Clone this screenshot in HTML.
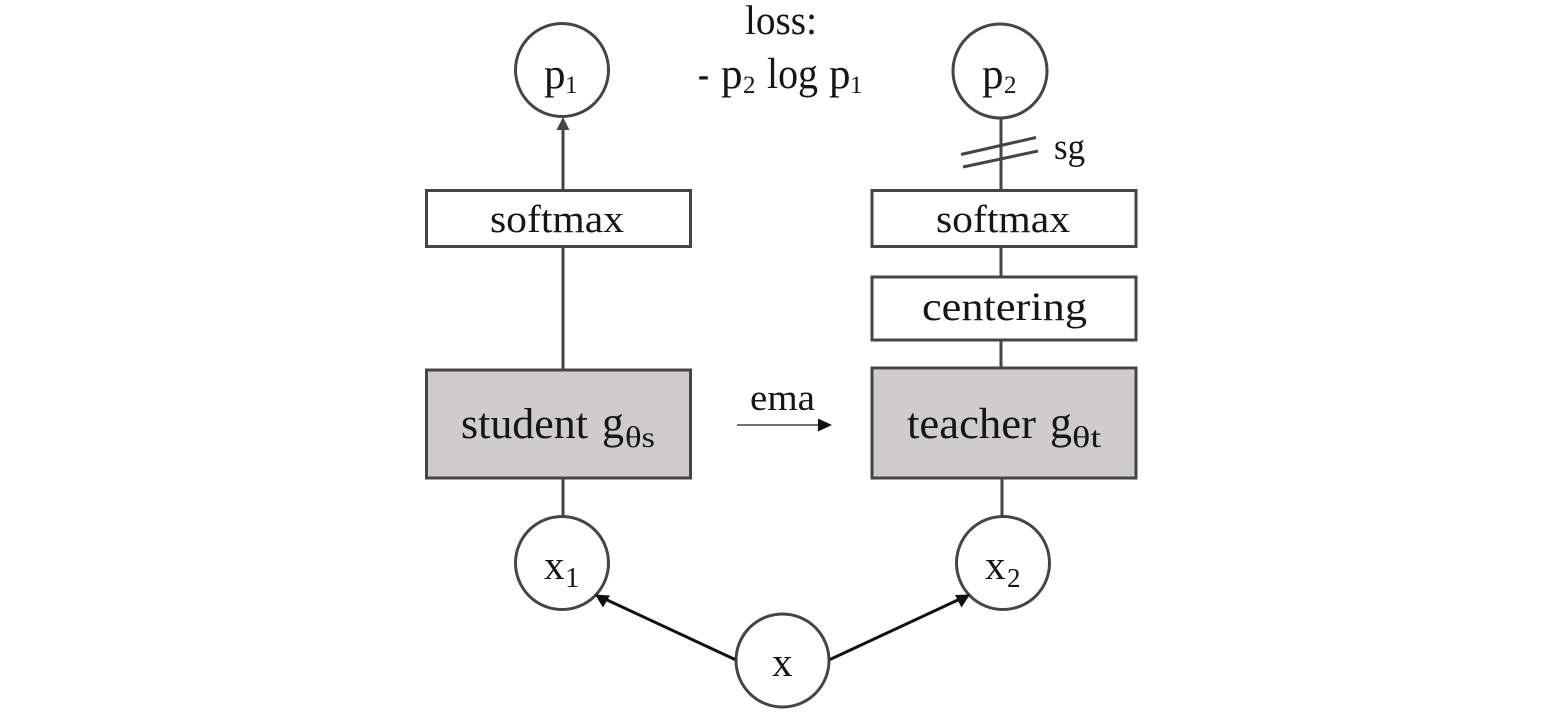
<!DOCTYPE html>
<html>
<head>
<meta charset="utf-8">
<style>
html,body{margin:0;padding:0;background:#fff;}
svg{display:block;filter:blur(.35px);}
text{font-family:"Liberation Serif",serif;fill:#161616;}
</style>
</head>
<body>
<svg width="1562" height="714" viewBox="0 0 1562 714" xmlns="http://www.w3.org/2000/svg">
<g stroke="#454545" stroke-width="3" fill="none">
<!-- left column lines -->
<line x1="563" y1="128" x2="563" y2="190"/>
<line x1="563" y1="247" x2="563" y2="370"/>
<line x1="563" y1="478" x2="563" y2="516"/>
<!-- right column lines -->
<line x1="1001" y1="117" x2="1001" y2="190"/>
<line x1="1001" y1="247" x2="1001" y2="277"/>
<line x1="1001" y1="340" x2="1001" y2="368"/>
<line x1="1002" y1="478" x2="1002" y2="516"/>
<!-- sg marks -->
<line x1="961" y1="154.500" x2="1036" y2="137.500"/>
<line x1="963" y1="167" x2="1038" y2="151"/>
<!-- circles -->
<circle cx="562" cy="70" r="46.500" fill="#fff"/>
<circle cx="1000" cy="71" r="47" fill="#fff"/>
<circle cx="562" cy="563" r="46.500" fill="#fff"/>
<circle cx="1003" cy="563" r="46.500" fill="#fff"/>
<circle cx="782.500" cy="660.500" r="46.500" fill="#fff"/>
<!-- boxes -->
<rect x="426.500" y="190.500" width="264" height="56" fill="#fff"/>
<rect x="872" y="190.500" width="264" height="56" fill="#fff"/>
<rect x="872" y="277" width="264" height="63" fill="#fff"/>
<rect x="426.500" y="370" width="264" height="108" fill="#cecccd"/>
<rect x="872" y="368" width="264" height="110" fill="#cecccd"/>
</g>
<!-- arrowheads -->
<polygon points="563,117 556.500,130 569.500,130" fill="#454545"/>
<line x1="737" y1="425" x2="820" y2="425" stroke="#444" stroke-width="1.500"/>
<polygon points="832,425 818,418.500 818,431.500" fill="#111"/>
<line x1="735" y1="659.500" x2="605" y2="599" stroke="#111" stroke-width="3"/>
<polygon points="595,594.500 610,595.500 603,607.500" fill="#111"/>
<line x1="830" y1="659.500" x2="960" y2="599" stroke="#111" stroke-width="3"/>
<polygon points="970,594.500 955,595 961.500,607.500" fill="#111"/>
<!-- labels -->
<text x="745" y="34" font-size="41" textLength="72" lengthAdjust="spacingAndGlyphs">loss:</text>
<text x="698" y="88" font-size="43" textLength="11" lengthAdjust="spacingAndGlyphs">-</text>
<text x="721" y="88" font-size="43">p</text>
<text x="743" y="93" font-size="25">2</text>
<text x="767" y="88" font-size="43" textLength="51" lengthAdjust="spacingAndGlyphs">log</text>
<text x="829" y="88" font-size="43">p</text>
<text x="850" y="93" font-size="25">1</text>
<text x="544" y="88" font-size="43">p</text>
<text x="565" y="93" font-size="25">1</text>
<text x="982" y="88" font-size="43">p</text>
<text x="1004" y="93" font-size="25">2</text>
<text x="1054" y="159" font-size="37" textLength="31" lengthAdjust="spacingAndGlyphs">sg</text>
<text x="490" y="232" font-size="39" textLength="134" lengthAdjust="spacingAndGlyphs">softmax</text>
<text x="936" y="232" font-size="39" textLength="134" lengthAdjust="spacingAndGlyphs">softmax</text>
<text x="922" y="320" font-size="40" textLength="165" lengthAdjust="spacingAndGlyphs">centering</text>
<text x="461" y="438" font-size="43" textLength="127" lengthAdjust="spacingAndGlyphs">student</text>
<text x="602" y="438" font-size="46" textLength="22" lengthAdjust="spacingAndGlyphs">g</text>
<text x="625" y="447" font-size="30" textLength="30" lengthAdjust="spacingAndGlyphs">θs</text>
<text x="907" y="438" font-size="43" textLength="129" lengthAdjust="spacingAndGlyphs">teacher</text>
<text x="1050" y="438" font-size="46" textLength="22" lengthAdjust="spacingAndGlyphs">g</text>
<text x="1072" y="447" font-size="30" textLength="29" lengthAdjust="spacingAndGlyphs">θt</text>
<text x="750" y="410" font-size="37" textLength="65" lengthAdjust="spacingAndGlyphs">ema</text>
<text x="544" y="579" font-size="41">x</text>
<text x="565" y="587" font-size="29">1</text>
<text x="985" y="579" font-size="41">x</text>
<text x="1007" y="587" font-size="27">2</text>
<text x="772" y="676" font-size="41">x</text>
</svg>
</body>
</html>
